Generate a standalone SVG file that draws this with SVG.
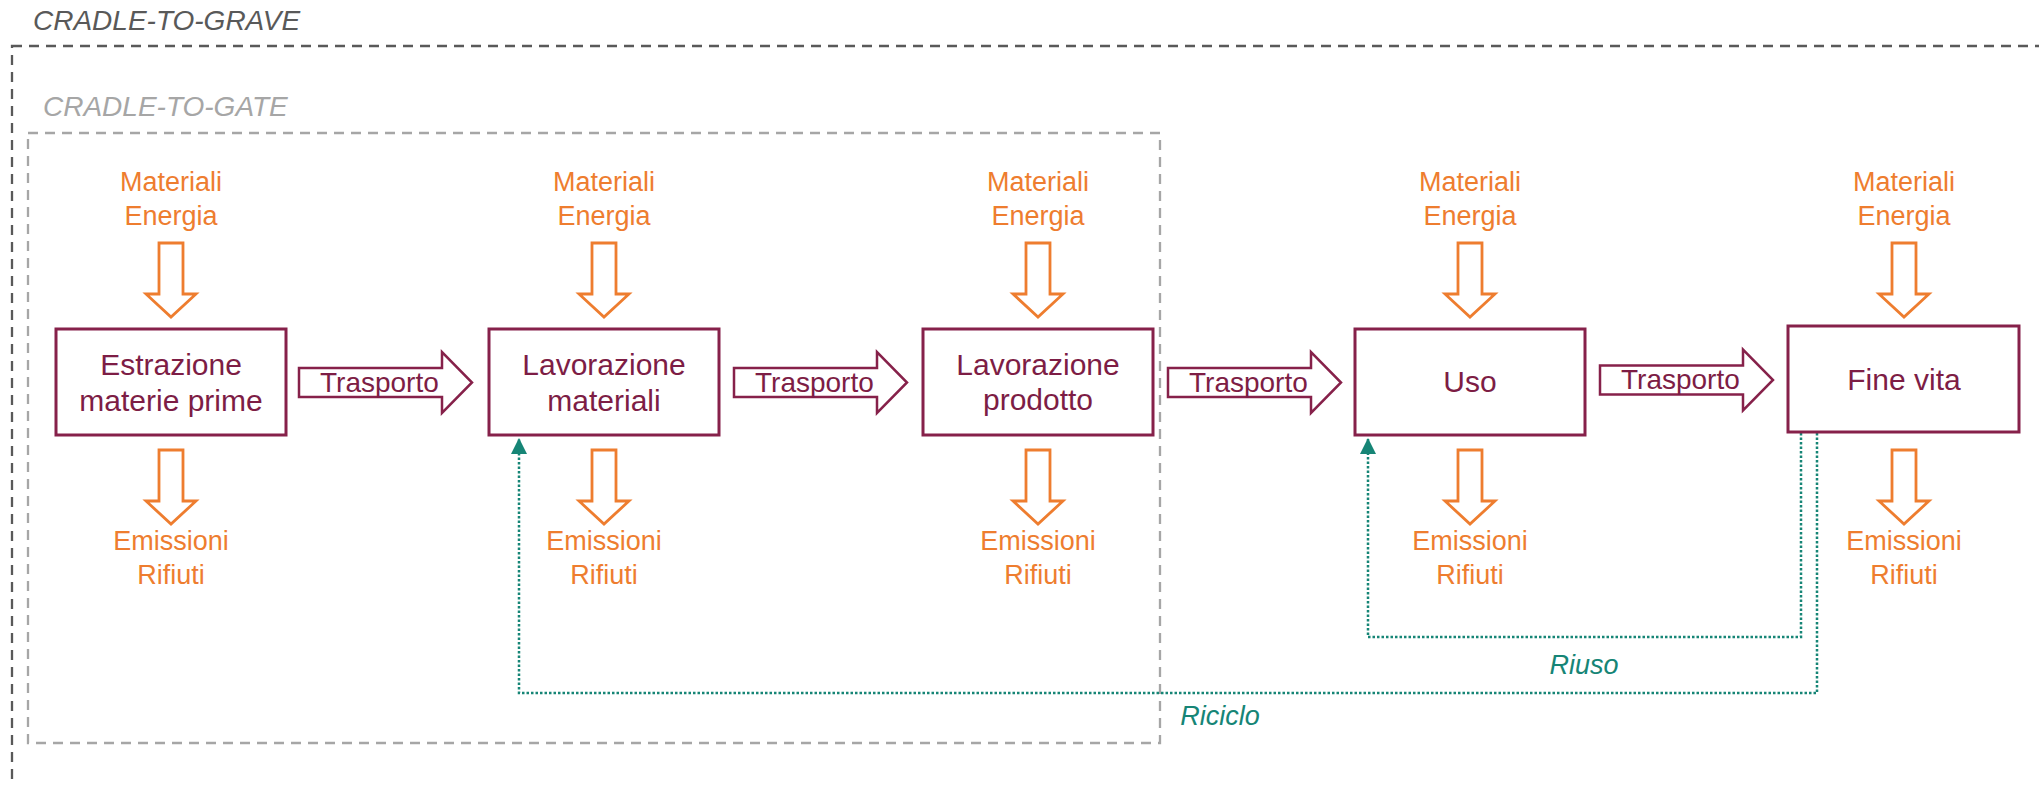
<svg xmlns="http://www.w3.org/2000/svg" width="2039" height="786" viewBox="0 0 2039 786">
  <style>
    .bg { fill: #ffffff; }
    .scope-outer { fill: none; stroke: #595959; stroke-width: 2.3; stroke-dasharray: 10 7; }
    .scope-inner { fill: none; stroke: #A6A6A6; stroke-width: 2.3; stroke-dasharray: 10 7; }
    .scope-label { font-family: "Liberation Sans", Arial, sans-serif; font-style: italic; font-size: 28px; }
    .box { fill: #ffffff; stroke: #86214A; stroke-width: 3; }
    .box-text { font-family: "Liberation Sans", Arial, sans-serif; font-size: 30px; fill: #7D1D45; text-anchor: middle; }
    .flow { fill: #ffffff; stroke: #EE7D2F; stroke-width: 2.8; stroke-linejoin: miter; }
    .flow-text { font-family: "Liberation Sans", Arial, sans-serif; font-size: 27px; fill: #EE7D2F; text-anchor: middle; }
    .transport { fill: #ffffff; stroke: #86214A; stroke-width: 2.5; }
    .transport-text { font-family: "Liberation Sans", Arial, sans-serif; font-size: 28px; fill: #7D1D45; }
    .loop { fill: none; stroke: #168576; stroke-width: 2.5; stroke-dasharray: 2.5 2; }
    .loop-text { font-family: "Liberation Sans", Arial, sans-serif; font-style: italic; font-size: 27px; fill: #168576; text-anchor: middle; }
  </style>
  <defs>
    <!-- hollow block arrow pointing down, origin at shaft top centre -->
    <path id="down-arrow" class="flow" d="M-12,0 H12 V51 H25 L0,74 L-25,51 H-12 Z"/>
    <!-- hollow block arrow pointing right, origin at shaft left, vertical centre -->
    <path id="right-arrow" class="transport" d="M0,-14.5 H143 V-30.5 L173,0 L143,30.5 V14.5 H0 Z"/>
    <marker id="loop-head" markerUnits="userSpaceOnUse" markerWidth="16" markerHeight="16" viewBox="0 0 14 14" refX="14" refY="7" orient="auto">
      <path d="M0,0 L14,7 L0,14 Z" fill="#168576"/>
    </marker>
  </defs>

  <rect class="bg" x="0" y="0" width="2039" height="786"/>

  <!-- system boundaries -->
  <g id="scope-grave">
    <rect class="scope-outer" x="12" y="46" width="2060" height="780"/>
    <text class="scope-label" x="33" y="30" fill="#595959">CRADLE-TO-GRAVE</text>
  </g>
  <g id="scope-gate">
    <rect class="scope-inner" x="28" y="133" width="1132" height="610"/>
    <text class="scope-label" x="43" y="116" fill="#A6A6A6">CRADLE-TO-GATE</text>
  </g>

  <!-- recycling / reuse loops -->
  <g id="connectors">
    <path class="loop" d="M1817,433 V693 H519 V438" marker-end="url(#loop-head)"/>
    <path class="loop" d="M1801,433 V637 H1368 V438" marker-end="url(#loop-head)"/>
    <text class="loop-text" x="1584" y="674">Riuso</text>
    <text class="loop-text" x="1220" y="725">Riciclo</text>

    <g id="transport-1">
      <use href="#right-arrow" x="299" y="382.5"/>
      <text class="transport-text" x="320" y="392">Trasporto</text>
    </g>
    <g id="transport-2">
      <use href="#right-arrow" x="734" y="382.5"/>
      <text class="transport-text" x="755" y="392">Trasporto</text>
    </g>
    <g id="transport-3">
      <use href="#right-arrow" x="1168" y="382.5"/>
      <text class="transport-text" x="1189" y="392">Trasporto</text>
    </g>
    <g id="transport-4">
      <use href="#right-arrow" x="1600" y="380"/>
      <text class="transport-text" x="1621" y="389">Trasporto</text>
    </g>
  </g>

  <!-- life-cycle stages -->
  <g id="stage-estrazione">
    <text class="flow-text" x="171" y="191">Materiali</text>
    <text class="flow-text" x="171" y="225">Energia</text>
    <use href="#down-arrow" x="171" y="243"/>
    <rect class="box" x="56" y="329" width="230" height="106"/>
    <text class="box-text" x="171" y="375">Estrazione</text>
    <text class="box-text" x="171" y="411">materie prime</text>
    <use href="#down-arrow" x="171" y="450"/>
    <text class="flow-text" x="171" y="550">Emissioni</text>
    <text class="flow-text" x="171" y="584">Rifiuti</text>
  </g>

  <g id="stage-lavorazione-materiali">
    <text class="flow-text" x="604" y="191">Materiali</text>
    <text class="flow-text" x="604" y="225">Energia</text>
    <use href="#down-arrow" x="604" y="243"/>
    <rect class="box" x="489" y="329" width="230" height="106"/>
    <text class="box-text" x="604" y="375">Lavorazione</text>
    <text class="box-text" x="604" y="411">materiali</text>
    <use href="#down-arrow" x="604" y="450"/>
    <text class="flow-text" x="604" y="550">Emissioni</text>
    <text class="flow-text" x="604" y="584">Rifiuti</text>
  </g>

  <g id="stage-lavorazione-prodotto">
    <text class="flow-text" x="1038" y="191">Materiali</text>
    <text class="flow-text" x="1038" y="225">Energia</text>
    <use href="#down-arrow" x="1038" y="243"/>
    <rect class="box" x="923" y="329" width="230" height="106"/>
    <text class="box-text" x="1038" y="375">Lavorazione</text>
    <text class="box-text" x="1038" y="410">prodotto</text>
    <use href="#down-arrow" x="1038" y="450"/>
    <text class="flow-text" x="1038" y="550">Emissioni</text>
    <text class="flow-text" x="1038" y="584">Rifiuti</text>
  </g>

  <g id="stage-uso">
    <text class="flow-text" x="1470" y="191">Materiali</text>
    <text class="flow-text" x="1470" y="225">Energia</text>
    <use href="#down-arrow" x="1470" y="243"/>
    <rect class="box" x="1355" y="329" width="230" height="106"/>
    <text class="box-text" x="1470" y="392">Uso</text>
    <use href="#down-arrow" x="1470" y="450"/>
    <text class="flow-text" x="1470" y="550">Emissioni</text>
    <text class="flow-text" x="1470" y="584">Rifiuti</text>
  </g>

  <g id="stage-fine-vita">
    <text class="flow-text" x="1904" y="191">Materiali</text>
    <text class="flow-text" x="1904" y="225">Energia</text>
    <use href="#down-arrow" x="1904" y="243"/>
    <rect class="box" x="1788" y="326" width="231" height="106"/>
    <text class="box-text" x="1904" y="390">Fine vita</text>
    <use href="#down-arrow" x="1904" y="450"/>
    <text class="flow-text" x="1904" y="550">Emissioni</text>
    <text class="flow-text" x="1904" y="584">Rifiuti</text>
  </g>
</svg>
